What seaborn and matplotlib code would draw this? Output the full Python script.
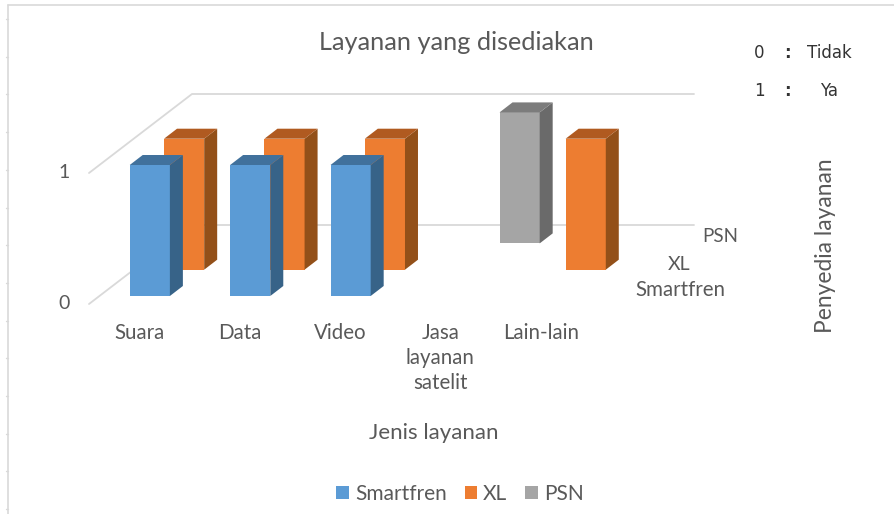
import matplotlib

matplotlib.use("Agg")
import matplotlib.pyplot as plt
import numpy as np
import pandas as pd
import seaborn as sns
from matplotlib.lines import Line2D
from matplotlib.patches import Polygon
from matplotlib.transforms import ScaledTranslation

# --- Data ---
categories = ["Suara", "Data", "Video", "Jasa\nlayanan\nsatelit", "Lain-lain"]
providers = ["Smartfren", "XL", "PSN"]
smartfren = [1, 1, 1, 0, 0]
xl = [1, 1, 1, 0, 1]
psn = [0, 0, 0, 1, 0]

colors = {"Smartfren": "#5B9BD5", "XL": "#ED7D31", "PSN": "#A5A5A5"}
top_colors = {"Smartfren": "#41719C", "XL": "#B05A20", "PSN": "#7C7C7C"}
side_colors = {"Smartfren": "#376388", "XL": "#935019", "PSN": "#6A6A6A"}

W, H = 894, 514
TEXT = "#595959"
GRID = "#D9D9D9"

df = pd.DataFrame(
    {
        "layanan": categories * 3,
        "provider": np.repeat(providers, 5),
        "value": smartfren + xl + psn,
    }
)

sns.set_theme(style="white")
plt.rcParams["font.family"] = ["Lato", "DejaVu Sans"]

fig = plt.figure(figsize=(W / 100, H / 100), dpi=100)
# front edge of the 3D box: x 89-591 px, y 304 (0) to 173 (1)
ax = fig.add_axes([89 / W, 1 - 304 / H, 502 / W, 131 / H])

sns.barplot(
    data=df,
    x="layanan",
    y="value",
    hue="provider",
    hue_order=providers,
    order=categories,
    palette=colors,
    saturation=1,
    dodge=False,
    width=0.4,
    linewidth=0,
    ax=ax,
)
ax.set_xlim(-0.5, 4.5)
ax.set_ylim(0, 1)

# px to data units
px_x = 5 / 502
px_y = 1 / 131

# box floor and back wall
wall_dx, wall_dy = 103 * px_x, 79 * px_y
for level in [0, 1]:
    ax.plot(
        [-0.5, -0.5 + wall_dx, 4.5 + wall_dx],
        [level, level + wall_dy, level + wall_dy],
        color=GRID,
        lw=1.3,
        clip_on=False,
        zorder=1,
    )

# push each series back into its depth slot and add the side and top faces
slot_dx, slot_dy = 34.3 * px_x, 26.3 * px_y
bar_dx, bar_dy = 13 * px_x, 10 * px_y
for i, (name, container) in enumerate(zip(providers, ax.containers)):
    z = 10 - i
    off_x = (10.6 * px_x) + i * slot_dx
    off_y = (8 * px_y) + i * slot_dy
    for bar in container:
        if bar.get_height() == 0:
            bar.set_visible(False)
            continue
        x0 = bar.get_x() + off_x
        y0 = bar.get_y() + off_y
        x1 = x0 + bar.get_width()
        y1 = y0 + bar.get_height()
        bar.set_x(x0)
        bar.set_y(y0)
        bar.set_clip_on(False)
        bar.set_zorder(z)
        side = [(x1, y0), (x1 + bar_dx, y0 + bar_dy), (x1 + bar_dx, y1 + bar_dy), (x1, y1)]
        top = [(x0, y1), (x1, y1), (x1 + bar_dx, y1 + bar_dy), (x0 + bar_dx, y1 + bar_dy)]
        ax.add_patch(Polygon(side, color=side_colors[name], lw=0, clip_on=False, zorder=z))
        ax.add_patch(Polygon(top, color=top_colors[name], lw=0, clip_on=False, zorder=z))

# axes text
ax.set_yticks([0, 1])
ax.set_xlabel("")
ax.set_ylabel("")
ax.tick_params(axis="x", length=0, pad=14, labelsize=14.8, labelcolor=TEXT)
ax.tick_params(axis="y", length=0, pad=14, labelsize=14, labelcolor=TEXT)
for label in ax.get_xticklabels():
    label.set_linespacing(1.3)
# the value labels sit slightly above their lines
nudge = ScaledTranslation(0, 2 / 100, fig.dpi_scale_trans)
for label in ax.get_yticklabels():
    label.set_transform(label.get_transform() + nudge)
sns.despine(ax=ax, left=True, bottom=True)
ax.patch.set_visible(False)

fig.text(456 / W, 1 - 42 / H, "Layanan yang disediakan", fontsize=18.2, color=TEXT, ha="center", va="center")
fig.text(434 / W, 1 - 433 / H, "Jenis layanan", fontsize=16, color=TEXT, ha="center", va="center")
fig.text(826 / W, 1 - 246 / H, "Penyedia layanan", fontsize=16.4, color=TEXT, rotation=90, ha="center", va="center")

# series names along the depth axis
fig.text(720 / W, 1 - 237 / H, "PSN", fontsize=13.5, color=TEXT, ha="center", va="center")
fig.text(679 / W, 1 - 264 / H, "XL", fontsize=14, color=TEXT, ha="center", va="center")
fig.text(680 / W, 1 - 290 / H, "Smartfren", fontsize=14.8, color=TEXT, ha="center", va="center")

# value key
for y, num, word in [(53, "0", "Tidak"), (91, "1", "Ya")]:
    fig.text(759 / W, 1 - y / H, num, fontsize=12, color="#333333", family="DejaVu Sans", ha="center", va="center")
    fig.text(787 / W, 1 - y / H, ":", fontsize=12, color="#333333", family="DejaVu Sans", weight="bold", ha="center", va="center")
    fig.text(829 / W, 1 - y / H, word, fontsize=12, color="#333333", family="DejaVu Sans", ha="center", va="center")

handles, labels = ax.get_legend_handles_labels()
ax.legend(
    handles,
    labels,
    loc="center",
    bbox_to_anchor=(460 / W, 1 - 494 / H),
    bbox_transform=fig.transFigure,
    ncol=3,
    frameon=False,
    fontsize=15,
    labelcolor=TEXT,
    handlelength=0.6,
    handleheight=0.6,
    handletextpad=0.3,
    columnspacing=0.85,
    borderpad=0,
)

# chart frame left by the screenshot
fig.add_artist(Line2D([8 / W, 8 / W], [0, 1 - 5 / H], color=GRID, lw=1.2))
fig.add_artist(Line2D([8 / W, 1], [1 - 5 / H, 1 - 5 / H], color=GRID, lw=1.2))
for y in np.arange(19, H, 37.7):
    fig.add_artist(Line2D([6 / W, 8 / W], [1 - y / H, 1 - y / H], color=GRID, lw=1))

fig.savefig("out.png", dpi=100)
